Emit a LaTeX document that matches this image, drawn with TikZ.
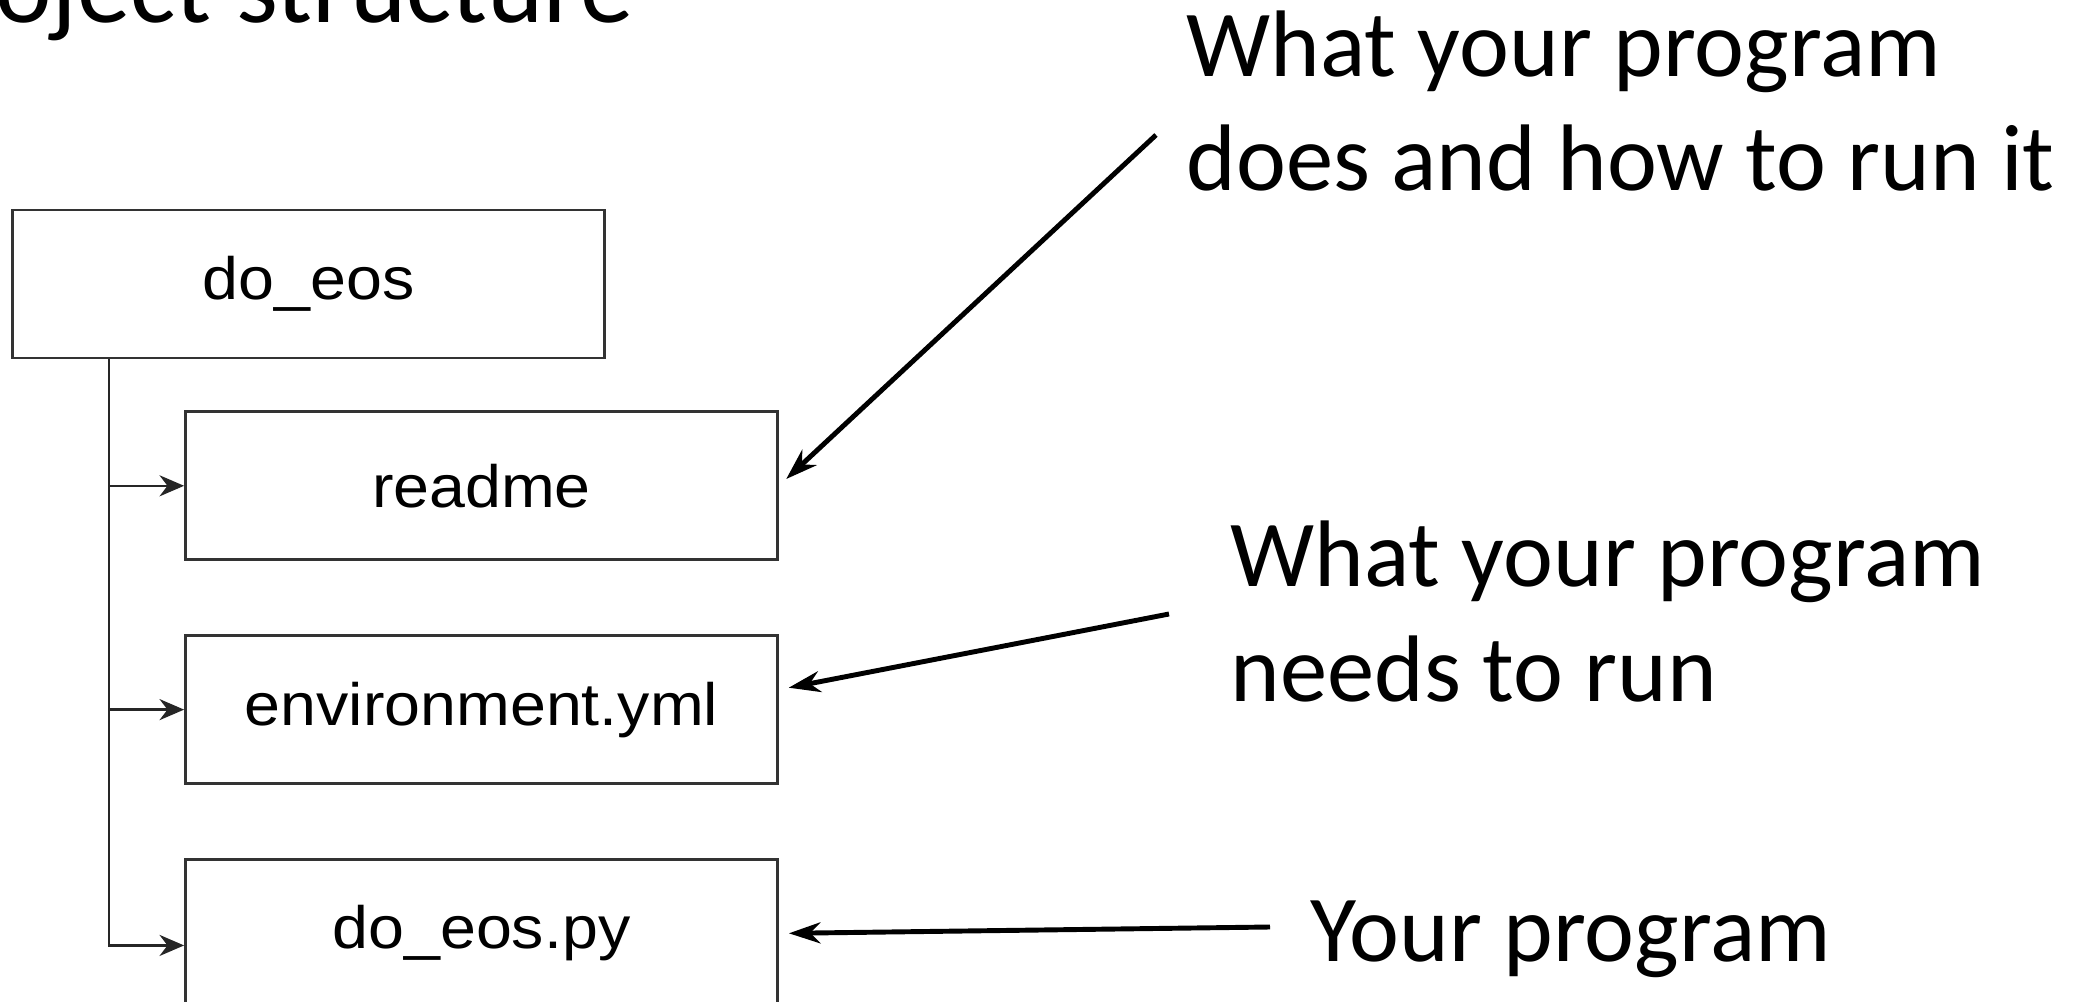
\documentclass[tikz,border=0pt]{standalone}
\usepackage{fontspec}
\setmainfont{Carlito}
\newfontfamily\boxfont[FakeStretch=1.08]{Liberation Sans}
\usetikzlibrary{arrows.meta, positioning}

\begin{document}
\begin{tikzpicture}[>={Stealth[length=9pt,width=6pt]},
  file node/.style={draw=black!80,line width=0.8pt,fill=white,minimum width=5.92cm,
    minimum height=1.48cm,inner sep=0pt,font=\boxfont\fontsize{17pt}{18pt}\selectfont},
  note/.style={align=left,inner sep=0pt,anchor=base west,font=\fontsize{26.9pt}{32.7pt}\selectfont},
  branch/.style={->,black!85,line width=0.7pt,>={Stealth[length=7pt,width=6pt]}},
  pointer/.style={->,line width=1.4pt,shorten >=0.1cm}]
  \useasboundingbox (0,0) rectangle (20.98,-10.02);
  \node[anchor=base east,inner sep=0pt,font=\fontsize{30.5pt}{36pt}\selectfont] (title) at (6.34,-0.23) {oject structure};
  \node[file node] (root) at (3.085,-2.84) {do\_eos};
  \node[file node, below right=0.51cm and 1.73cm of root.south west] (readme) {readme};
  \node[file node, below=0.73cm of readme] (env) {environment.yml};
  \node[file node, below=0.73cm of env] (pyfile) {do\_eos.py};
  \coordinate (trunk) at ([xshift=0.98cm]root.south west);
  \draw[branch] (trunk) |- ([yshift=-0.12cm]pyfile.west);
  \path[branch] (trunk |- readme.west) edge (readme.west)
                (trunk |- env.west) edge (env.west);
  % notes on the right
  \node[note] (note1) at (11.86,-1.91) {What your program\\does and how to run it};
  \node[note] (note2) at (12.30,-7.01) {What your program\\needs to run};
  \node[note] (note3) at (13.10,-9.61) {Your program};
  \coordinate (tail1) at (11.56,-1.35);
  \coordinate (tail2) at (11.69,-6.14);
  \coordinate (tail3) at (12.70,-9.27);
  \draw[pointer] (tail1) -- (readme.east);
  \draw[pointer] (tail2) -- ([yshift=0.2cm]env.east);
  \draw[pointer] (tail3) -- (pyfile.east);
\end{tikzpicture}
\end{document}
